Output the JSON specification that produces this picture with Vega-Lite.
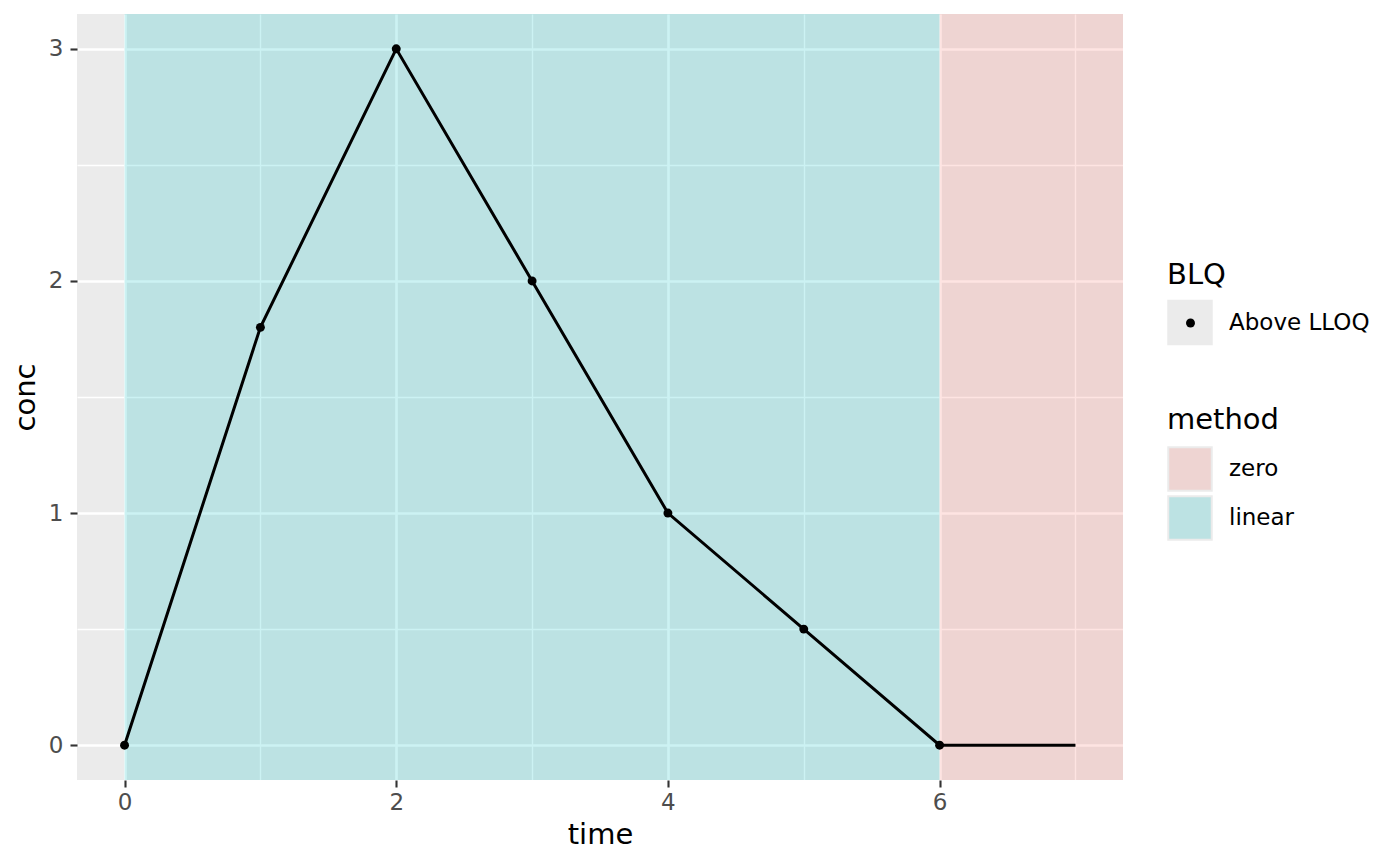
{
  "$schema": "https://vega.github.io/schema/vega-lite/v6.json",
  "autosize": {"type": "none"},
  "width": 1046,
  "height": 766,
  "padding": {"left": 77, "top": 14, "right": 277, "bottom": 85},
  "background": "white",
  "config": {
    "font": "DejaVu Sans",
    "view": {"fill": "#EBEBEB", "stroke": null},
    "axis": {
      "domain": false,
      "gridColor": "white",
      "tickColor": "#333333",
      "tickSize": 7,
      "tickWidth": 2.1,
      "labelColor": "#4D4D4D",
      "labelFontSize": 23,
      "labelFont": "DejaVu Sans",
      "titleFont": "DejaVu Sans",
      "titleFontSize": 29,
      "titleFontWeight": "normal",
      "titleColor": "black"
    },
    "legend": {
      "titleFont": "DejaVu Sans",
      "titleFontSize": 29,
      "titleFontWeight": "normal",
      "titleColor": "black",
      "labelFont": "DejaVu Sans",
      "labelFontSize": 23,
      "labelColor": "black",
      "labelOffset": 16,
      "rowPadding": 0,
      "titlePadding": 9.5
    }
  },
  "datasets": {
    "conc": [
      {"time": 0, "conc": 0, "BLQ": "Above LLOQ"},
      {"time": 1, "conc": 1.8, "BLQ": "Above LLOQ"},
      {"time": 2, "conc": 3, "BLQ": "Above LLOQ"},
      {"time": 3, "conc": 2, "BLQ": "Above LLOQ"},
      {"time": 4, "conc": 1, "BLQ": "Above LLOQ"},
      {"time": 5, "conc": 0.5, "BLQ": "Above LLOQ"},
      {"time": 6, "conc": 0, "BLQ": "Above LLOQ"},
      {"time": 7, "conc": 0, "BLQ": null}
    ],
    "intervals": [
      {"method": "linear", "start": 0, "end": 6},
      {"method": "zero", "start": 6, "end": 7.35}
    ]
  },
  "resolve": {"axis": {"x": "independent", "y": "independent"}},
  "layer": [
    {
      "data": {"name": "intervals"},
      "mark": {"type": "rect", "opacity": 0.2, "clip": true},
      "encoding": {
        "x": {
          "field": "start", "type": "quantitative",
          "scale": {"domain": [-0.35, 7.35], "nice": false, "zero": false},
          "axis": {"orient": "top", "values": [1, 3, 5, 7], "grid": true, "gridWidth": 1.4, "ticks": false, "labels": false, "domain": false, "title": null}
        },
        "x2": {"field": "end"},
        "fill": {
          "field": "method", "type": "nominal",
          "scale": {"range": ["#00BFC4", "#F8766D"]},
          "legend": null
        }
      }
    },
    {
      "data": {"name": "intervals"},
      "mark": {"type": "rect", "opacity": 0, "clip": true},
      "encoding": {
        "x": {
          "field": "start", "type": "quantitative",
          "scale": {"domain": [-0.35, 7.35], "nice": false, "zero": false},
          "axis": null
        },
        "x2": {"field": "end"},
        "color": {
          "field": "method", "type": "nominal",
          "scale": {"domain": ["zero", "linear"], "range": ["#EED4D2", "#BCE2E3"]},
          "legend": {
            "title": "method",
            "orient": "none",
            "legendX": 1090,
            "legendY": 392,
            "titlePadding": 11,
            "rowPadding": -10,
            "symbolType": "square",
            "symbolSize": 1892,
            "symbolOpacity": 1,
            "symbolStrokeColor": "#EBEBEB",
            "symbolStrokeWidth": 2
          }
        }
      }
    },
    {
      "data": {"name": "conc"},
      "mark": {"type": "line", "color": "black", "strokeWidth": 3},
      "encoding": {
        "x": {
          "field": "time", "type": "quantitative",
          "scale": {"domain": [-0.35, 7.35], "nice": false, "zero": false},
          "axis": {"values": [0, 2, 4, 6], "title": "time", "grid": true, "gridWidth": 2.7, "labelPadding": 4, "titlePadding": 6}
        },
        "y": {
          "field": "conc", "type": "quantitative",
          "scale": {"domain": [-0.15, 3.15], "nice": false, "zero": false},
          "axis": {"values": [0, 1, 2, 3], "title": "conc", "grid": true, "gridWidth": 2.7, "labelPadding": 7, "titlePadding": 8}
        },
        "order": {"field": "time", "type": "quantitative"}
      }
    },
    {
      "data": {"name": "conc"},
      "transform": [{"filter": "datum.BLQ != null"}],
      "mark": {"type": "point", "filled": true, "shape": "square", "color": "#EBEBEB", "opacity": 0},
      "encoding": {
        "x": {
          "field": "time", "type": "quantitative",
          "scale": {"domain": [-0.35, 7.35], "nice": false, "zero": false},
          "axis": null
        },
        "y": {
          "field": "conc", "type": "quantitative",
          "scale": {"domain": [-0.15, 3.15], "nice": false, "zero": false},
          "axis": null
        },
        "size": {
          "field": "BLQ", "type": "ordinal",
          "scale": {"type": "ordinal", "range": [2070]},
          "legend": {
            "title": "BLQ",
            "orient": "none",
            "legendX": 1090,
            "legendY": 247,
            "zindex": 1,
            "symbolType": "square",
            "symbolOpacity": 1,
            "symbolFillColor": "#EBEBEB",
            "symbolStrokeWidth": 0
          }
        }
      }
    },
    {
      "data": {"name": "conc"},
      "transform": [{"filter": "datum.BLQ != null"}],
      "mark": {"type": "point", "filled": true, "color": "black", "size": 80, "opacity": 1},
      "encoding": {
        "x": {
          "field": "time", "type": "quantitative",
          "scale": {"domain": [-0.35, 7.35], "nice": false, "zero": false},
          "axis": null
        },
        "y": {
          "field": "conc", "type": "quantitative",
          "scale": {"domain": [-0.15, 3.15], "nice": false, "zero": false},
          "axis": {"orient": "right", "values": [0.5, 1.5, 2.5], "grid": true, "gridWidth": 1.4, "ticks": false, "labels": false, "domain": false, "title": null}
        },
        "shape": {
          "field": "BLQ", "type": "nominal",
          "scale": {"domain": ["Above LLOQ"], "range": ["circle"]},
          "legend": {
            "title": null,
            "orient": "none",
            "legendX": 1102,
            "legendY": 297.5,
            "zindex": 2,
            "symbolSize": 80,
            "symbolFillColor": "black",
            "symbolStrokeWidth": 0,
            "labelExpr": "''"
          }
        }
      }
    }
  ]
}
